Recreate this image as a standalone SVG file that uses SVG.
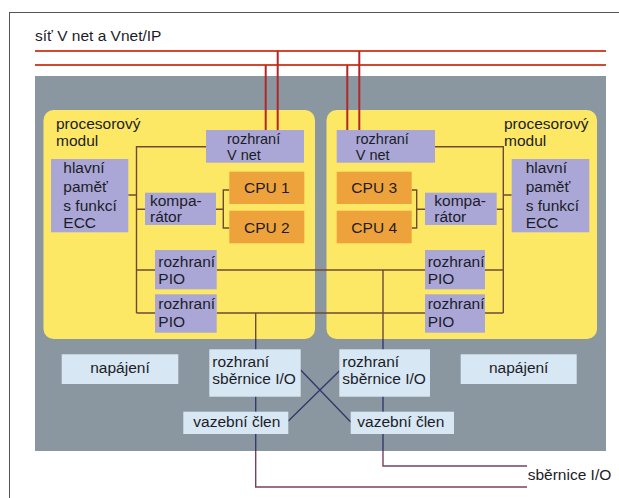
<svg xmlns="http://www.w3.org/2000/svg" width="619" height="498" viewBox="0 0 619 498">
<style>
text{font-family:"Liberation Sans",Arial,sans-serif;font-size:15.5px;fill:#1c1c28}
.sm{font-size:14.5px}
.mod{fill:#fde866}
.lav{fill:#aaa7d6}
.cpu{fill:#eea23b}
.lb{fill:#d7e7f3}
.red{stroke:#d24a2e;stroke-width:2;fill:none}
.dred{stroke:#b3262a;stroke-width:2;fill:none}
.br{stroke:#6e4a35;stroke-width:1.4;fill:none}
.nv{stroke:#35386e;stroke-width:1.4;fill:none}
.mr{stroke:#7b4060;stroke-width:1.4;fill:none}
.c{text-anchor:middle}
</style>
<rect x="9.5" y="12.5" width="640" height="520" fill="#fff" stroke="#555" stroke-width="1"/>
<text x="35" y="41">síť V net a Vnet/IP</text>
<rect x="35" y="76" width="571" height="375" fill="#8b97a0"/>
<g id="modul-left"><rect class="mod" x="43.5" y="110" width="271.5" height="229" rx="10"/><text x="56" y="129">procesorový</text><text x="56" y="146">modul</text></g>
<g id="modul-right"><rect class="mod" x="326.5" y="110" width="270.5" height="229" rx="10"/><text x="504" y="129">procesorový</text><text x="504" y="146">modul</text></g>
<g id="connectors">
<path class="red" d="M35 51H606M35 65H606"/>
<path class="dred" d="M265.7 65V130M277.7 51V130M347.3 65V130M359.3 51V130"/>
<path class="br" d="M206 146.7H136.5V313M128.3 195H136.5M136.5 209.3H145M136.5 270H155M136.5 313H155"/>
<path class="br" d="M216 209.3H223.3M229.3 190H223.3V228H229.3"/>
<path class="br" d="M435 146.7H503.3V313M503.3 195H511.7M496.7 209.3H503.3M485 270H503.3M485 313H503.3"/>
<path class="br" d="M425 209.3H416.7M411.7 190H416.7V228H411.7"/>
<path class="br" d="M216.7 270H425M216.7 313H425M255.7 313V339M383 270V339"/>
<path class="nv" d="M255.7 339V451M383 339V451M300.7 370L350.7 422M288.3 421L339.3 371"/>
<path class="mr" d="M255.7 451V487H527M383 451V466H527"/>
</g>
<g id="vnet-left"><rect class="lav" x="206" y="130" width="98" height="32.7"/><text class="sm" x="227" y="143.5">rozhraní</text><text class="sm" x="227" y="159.5">V net</text></g>
<g id="vnet-right"><rect class="lav" x="336.7" y="130" width="98.3" height="32.7"/><text class="sm" x="355.7" y="143.5">rozhraní</text><text class="sm" x="355.7" y="159.5">V net</text></g>
<g id="mem-left"><rect class="lav" x="51" y="159" width="77.3" height="73.3"/><text x="63.3" y="173.3">hlavní</text><text x="63.3" y="192">paměť</text><text x="63.3" y="210.7">s funkcí</text><text x="63.3" y="228.3">ECC</text></g>
<g id="mem-right"><rect class="lav" x="511.7" y="159" width="77.6" height="73.3"/><text x="525.7" y="173.3">hlavní</text><text x="525.7" y="192">paměť</text><text x="525.7" y="210.7">s funkcí</text><text x="525.7" y="228.3">ECC</text></g>
<g id="komp-left"><rect class="lav" x="145" y="192.7" width="71" height="32.3"/><text x="150" y="205.7">kompa-</text><text x="150" y="222.3">rátor</text></g>
<g id="komp-right"><rect class="lav" x="425" y="192.7" width="71.7" height="32.3"/><text x="434.3" y="205.7">kompa-</text><text x="434.3" y="222.3">rátor</text></g>
<g id="cpu1"><rect class="cpu" x="229.3" y="171.7" width="75" height="32.3"/><text class="c" x="266.8" y="193">CPU 1</text></g>
<g id="cpu2"><rect class="cpu" x="229.3" y="210.7" width="75" height="32.6"/><text class="c" x="266.8" y="233">CPU 2</text></g>
<g id="cpu3"><rect class="cpu" x="336.7" y="171.7" width="75" height="32.3"/><text class="c" x="374.2" y="193">CPU 3</text></g>
<g id="cpu4"><rect class="cpu" x="336.7" y="210.7" width="75" height="32.6"/><text class="c" x="374.2" y="233">CPU 4</text></g>
<g id="pio1-left"><rect class="lav" x="155" y="250" width="61.7" height="39.3"/><text x="158.3" y="266.7">rozhraní</text><text x="158.3" y="284.3">PIO</text></g>
<g id="pio2-left"><rect class="lav" x="155" y="294.3" width="61.7" height="38.4"/><text x="158.3" y="309.3">rozhraní</text><text x="158.3" y="326.7">PIO</text></g>
<g id="pio1-right"><rect class="lav" x="425" y="250" width="60" height="39.3"/><text x="427.7" y="266.7">rozhraní</text><text x="427.7" y="284.3">PIO</text></g>
<g id="pio2-right"><rect class="lav" x="425" y="294.3" width="60" height="38.4"/><text x="427.7" y="309.3">rozhraní</text><text x="427.7" y="326.7">PIO</text></g>
<g id="nap-left"><rect class="lb" x="61.7" y="354.3" width="116.6" height="29.7"/><text class="c" x="120" y="373.3">napájení</text></g>
<g id="nap-right"><rect class="lb" x="460.7" y="354.3" width="116" height="29.7"/><text class="c" x="518.7" y="373.3">napájení</text></g>
<g id="io-left"><rect class="lb" x="209.3" y="349.3" width="91.4" height="47.4"/><text x="212.3" y="366.7">rozhraní</text><text x="212.3" y="384">sběrnice I/O</text></g>
<g id="io-right"><rect class="lb" x="339.3" y="349.3" width="90.7" height="47.4"/><text x="342.3" y="366.7">rozhraní</text><text x="342.3" y="384">sběrnice I/O</text></g>
<g id="vaz-left"><rect class="lb" x="183.3" y="411.7" width="105" height="22.3"/><text x="193.3" y="427">vazební člen</text></g>
<g id="vaz-right"><rect class="lb" x="350.7" y="411.7" width="103.3" height="22.3"/><text x="357.3" y="427">vazební člen</text></g>
<text x="527.7" y="480">sběrnice I/O</text>
</svg>
